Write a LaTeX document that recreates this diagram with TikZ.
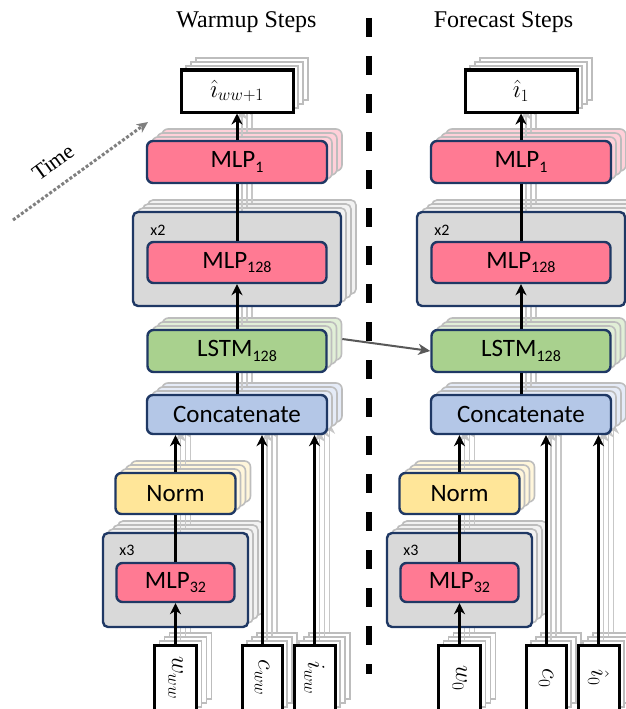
\documentclass[tikz,border=0pt]{standalone}
\usepackage{fontspec}
\newfontfamily\calfont{Carlito}
\newfontfamily\tmsfont{Liberation Serif}
\usetikzlibrary{arrows.meta}

\definecolor{navy}{RGB}{31,56,100}
\definecolor{mlppink}{RGB}{255,122,147}
\definecolor{lstmgreen}{RGB}{169,209,142}
\definecolor{catblue}{RGB}{180,199,231}
\definecolor{normyellow}{RGB}{255,230,153}
\definecolor{boxgrey}{RGB}{217,217,217}
\definecolor{crossgrey}{RGB}{89,89,89}
\definecolor{timegrey}{RGB}{127,127,127}

% subscript in the sans labels
\newcommand\lsub[1]{\raisebox{-4.5pt}{\fontsize{16}{16}\selectfont #1}}
\newif\ifmainlayer

\tikzset{
  tint/.style={fill=#1, draw=navy, line width=2.4pt},
  plain/.style={fill=white, draw=black, line width=3pt},
  link/.style={draw=black, line width=3pt},
  uparrow/.style={-{Stealth[length=11pt,width=11pt,inset=3.5pt]}},
  colbox/.style={rounded corners=6pt, inner sep=0pt, font=\calfont\fontsize{25}{25}\selectfont},
  mlpbox/.style={colbox, tint=mlppink},
  lstmbox/.style={colbox, tint=lstmgreen},
  catbox/.style={colbox, tint=catblue},
  normbox/.style={colbox, tint=normyellow},
  greybox/.style={rounded corners=5pt, inner sep=0pt, tint=boxgrey},
  iobox/.style={inner sep=0pt, plain, font=\fontsize{27}{27}\selectfont},
  inbox/.style={inner sep=0pt, plain, font=\fontsize{27}{27}\selectfont},
  replabel/.style={font=\calfont\fontsize{16}{16}\selectfont, inner sep=0pt},
  % faded copies standing for the other time steps
  ghost/.style={
    tint/.style={fill=##1!35, draw=black!26, line width=1.6pt},
    plain/.style={fill=white, draw=black!26, line width=1.6pt},
    link/.style={draw=black!22, line width=1.8pt},
  },
}

% one unrolled step: #1 name prefix, #2 output, #3 #4 #5 inputs
\newcommand\stackcol[5]{%
  \node[iobox, minimum width=112pt, minimum height=42pt] (#1out) at (237,91) {#2};
  \node[mlpbox, minimum width=180pt, minimum height=42pt] (#1mlp1) at (237,162) {\ifmainlayer MLP\lsub{1}\fi};
  \node[greybox, minimum width=208pt, minimum height=94pt] (#1grey2) at (237,259) {};
  \node[mlpbox, minimum width=179pt, minimum height=41pt] (#1mlp128) at (237,262.5) {\ifmainlayer MLP\lsub{128}\fi};
  \node[lstmbox, minimum width=179pt, minimum height=42pt] (#1lstm) at (237,351) {\ifmainlayer LSTM\lsub{128}\fi};
  \node[catbox, minimum width=180pt, minimum height=39pt] (#1concat) at (237,414.5) {\ifmainlayer Concatenate\fi};
  \node[normbox, minimum width=120pt, minimum height=41pt] (#1norm) at (175.5,493.5) {\ifmainlayer Norm\fi};
  \node[greybox, minimum width=145pt, minimum height=94pt] (#1grey3) at (175.5,580) {};
  \node[mlpbox, minimum width=118pt, minimum height=39pt] (#1mlp32) at (175.5,582.5) {\ifmainlayer MLP\lsub{32}\fi};
  \node[inbox, minimum width=42pt, minimum height=66pt] (#1inW) at (175.5,678) {#3};
  \node[inbox, minimum width=40pt, minimum height=66pt] (#1inC) at (262,678) {#4};
  \node[inbox, minimum width=41pt, minimum height=66pt] (#1inI) at (314.5,678) {#5};
  \draw[link, uparrow] (#1mlp1) -- (#1out);
  \draw[link] (#1mlp128) -- (#1mlp1);
  \draw[link, uparrow] (#1lstm) -- (#1mlp128);
  \draw[link] (#1concat) -- (#1lstm);
  \draw[link, uparrow] (#1norm.north) -- (#1norm.north |- #1concat.south);
  \draw[link, uparrow] (#1inC.north) -- (#1inC.north |- #1concat.south);
  \draw[link, uparrow] (#1inI.north) -- (#1inI.north |- #1concat.south);
  \draw[link] (#1mlp32) -- (#1norm);
  \draw[link, uparrow] (#1inW) -- (#1mlp32);
}

\begin{document}
\begin{tikzpicture}[x=1pt, y=-1pt]
\useasboundingbox (0,0) rectangle (626,709);

% ---------- warm-up column ----------
\mainlayerfalse
\begin{scope}[ghost, shift={(15,-12)}]\stackcol{Ls3}{}{}{}{}\end{scope}
\begin{scope}[ghost, shift={(10,-8)}]\stackcol{Ls2}{}{}{}{}\end{scope}
\begin{scope}[ghost, shift={(5,-4)}]\stackcol{Ls1}{}{}{}{}\end{scope}
\mainlayertrue
\stackcol{L}{$\hat{\imath}_{ww+1}$}%
  {\rotatebox{-90}{$w_{ww}$}}{\rotatebox{-90}{$c_{ww}$}}{\rotatebox{-90}{$i_{ww}$}}
\node[replabel] (Lx2) at (158,230) {x2};
\node[replabel] (Lx3) at (127,550) {x3};

% ---------- forecast column ----------
\mainlayerfalse
\begin{scope}[ghost, shift={(299,-12)}]\stackcol{Rs3}{}{}{}{}\end{scope}
\begin{scope}[ghost, shift={(294,-8)}]\stackcol{Rs2}{}{}{}{}\end{scope}
\begin{scope}[ghost, shift={(289,-4)}]\stackcol{Rs1}{}{}{}{}\end{scope}
\mainlayertrue
\begin{scope}[shift={(284,0)}]
\stackcol{R}{$\hat{\imath}_{1}$}%
  {\rotatebox{-90}{$w_{0}$}}{\rotatebox{-90}{$c_{0}$}}{\rotatebox{-90}{$\hat{\imath}_{0}$}}
\node[replabel] (Rx2) at (158,230) {x2};
\node[replabel] (Rx3) at (127,550) {x3};
\end{scope}

% hidden state handed over to the forecast steps
\draw[draw=crossgrey, line width=2pt, -{Stealth[length=12pt,width=11pt,inset=3.5pt]}]
  (Ls3lstm.east) -- (Rlstm.west);

% separator between the two phases
\coordinate (sepTop) at (369,18);
\coordinate (sepBot) at (369,674);
\draw[line width=6pt, dash pattern=on 19pt off 19pt] (sepTop) -- (sepBot);

% titles
\node[font=\tmsfont\fontsize{24}{24}\selectfont] (tWarm) at (246.5,22) {Warmup Steps};
\node[font=\tmsfont\fontsize{24}{24}\selectfont] (tFore) at (503.5,22) {Forecast Steps};

% time axis
\coordinate (timeStart) at (13,220);
\coordinate (timeEnd) at (148,122);
\draw[draw=timegrey, line width=3pt, dotted, -{Stealth[length=11pt,width=10pt,inset=3pt]}]
  (timeStart) -- (timeEnd);
\node[font=\tmsfont\fontsize{22}{22}\selectfont, rotate=36] (timeLbl) at (53,162) {Time};
\end{tikzpicture}
\end{document}
